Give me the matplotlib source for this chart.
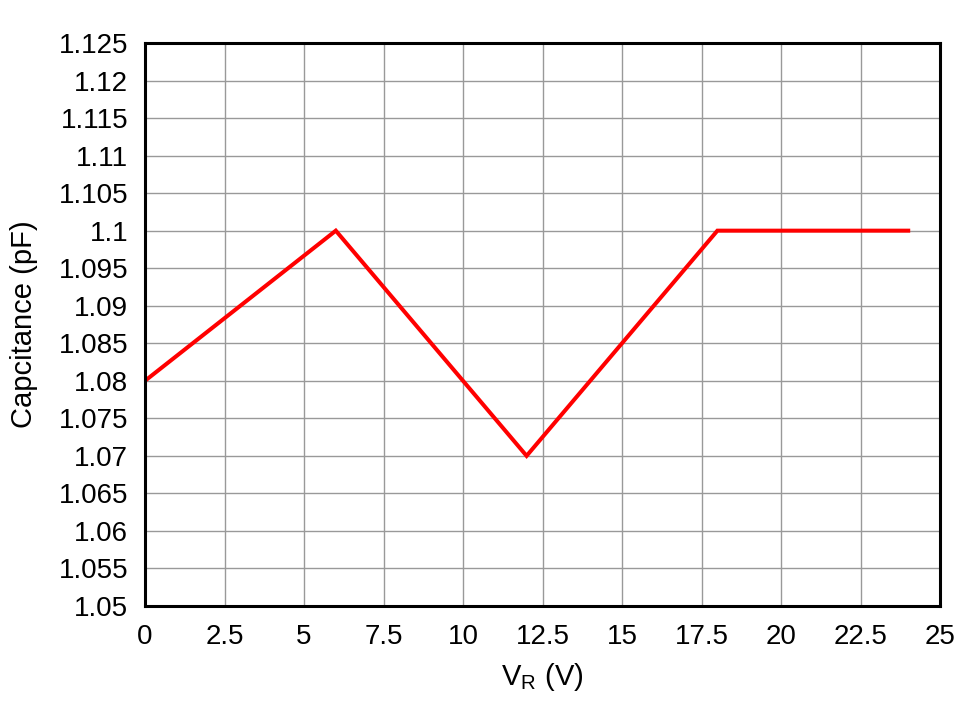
import matplotlib
matplotlib.use("Agg")
import matplotlib.pyplot as plt
import numpy as np

plt.rcParams['font.family'] = ['Liberation Sans', 'DejaVu Sans']

vr = [0, 6, 12, 18, 24]
cap = [1.08, 1.1, 1.07, 1.1, 1.1]
xticks = [0, 2.5, 5, 7.5, 10, 12.5, 15, 17.5, 20, 22.5, 25]
xtick_labels = ['0', '2.5', '5', '7.5', '10', '12.5', '15', '17.5', '20', '22.5', '25']
yticks = [1.05, 1.055, 1.06, 1.065, 1.07, 1.075, 1.08, 1.085, 1.09, 1.095, 1.1, 1.105, 1.11, 1.115, 1.12, 1.125]
ytick_labels = ['1.05', '1.055', '1.06', '1.065', '1.07', '1.075', '1.08', '1.085', '1.09', '1.095', '1.1', '1.105', '1.11', '1.115', '1.12', '1.125']

fig = plt.figure(figsize=(9.8, 7.01), dpi=100)
ax = fig.add_axes([145/980, 1-606/701, (940-145)/980, (606-43)/701])
ax.plot(vr, cap, color='#ff0000', lw=2.9, solid_joinstyle='miter')
ax.set_xlim(0, 25)
ax.set_ylim(1.05, 1.125)
ax.set_xticks(xticks)
ax.set_xticklabels(xtick_labels)
ax.set_yticks(yticks)
ax.set_yticklabels(ytick_labels)
ax.grid(True, color='#999999', lw=1)
ax.set_axisbelow(True)
for s in ax.spines.values():
    s.set_linewidth(2.2)
ax.tick_params(axis='y', length=0, labelsize=20, pad=12)
ax.tick_params(axis='x', length=0, labelsize=20, pad=13)
ax.set_xlabel('V$_\\mathregular{R}$ (V)', fontsize=21, labelpad=8)
ax.set_ylabel('Capcitance (pF)', fontsize=21, labelpad=15)
fig.savefig('out.png', dpi=100)
